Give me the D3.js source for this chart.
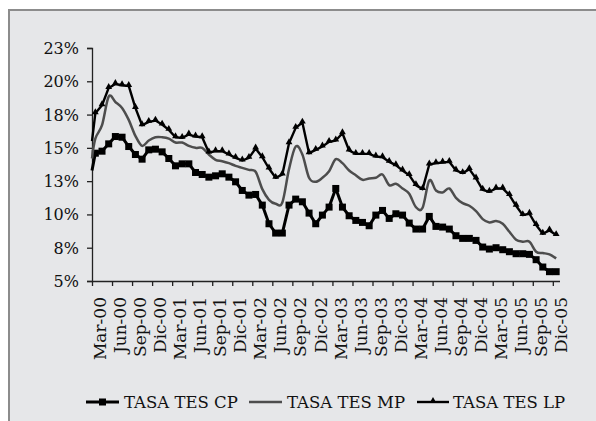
<!DOCTYPE html>
<html>
<head>
<meta charset="utf-8">
<script src="https://cdn.jsdelivr.net/npm/d3@7/dist/d3.min.js"></script>
<style>
  html, body { margin: 0; padding: 0; background: #fff; }
  svg text { font-family: "DejaVu Serif", serif; fill: #111; }
</style>
</head>
<body>
<div id="chart"></div>
<script>
// Tasas TES: corto, mediano y largo plazo (valores en %)

const etiquetasX = ["Mar-00", "Jun-00", "Sep-00", "Dic-00", "Mar-01", "Jun-01", "Sep-01", "Dic-01",
    "Mar-02", "Jun-02", "Sep-02", "Dic-02", "Mar-03", "Jun-03", "Sep-03", "Dic-03",
    "Mar-04", "Jun-04", "Sep-04", "Dic-04", "Mar-05", "Jun-05", "Sep-05", "Dic-05"];

const valoresY = [5, 7.5, 10, 12.5, 15, 17.5, 20, 22.5];
const etiquetasY = ["5%", "8%", "10%", "13%", "15%", "18%", "20%", "23%"];

// first value sits on the axis, the rest are monthly (Mar-00 .. Dic-05)
const tasaCP = [13.3, 14.6, 14.75, 15.3, 15.85, 15.8, 15.1, 14.5, 14.15, 14.85, 14.9,
    14.7, 14.2, 13.65, 13.8, 13.8, 13.15, 13.0, 12.8, 12.9, 13.05,
    12.8, 12.45, 11.8, 11.45, 11.5, 10.7, 9.3, 8.6, 8.6, 10.7,
    11.15, 10.95, 10.1, 9.3, 9.95, 10.55, 11.95, 10.55, 9.9, 9.55,
    9.4, 9.15, 9.95, 10.3, 9.7, 10.05, 9.95, 9.35, 8.9, 8.9,
    9.85, 9.1, 9.05, 8.9, 8.4, 8.2, 8.2, 8.05, 7.55, 7.4,
    7.5, 7.35, 7.2, 7.05, 7.05, 7.0, 6.6, 6.05, 5.7, 5.7];

const tasaMP = [14.2, 15.7, 16.7, 18.85, 18.45, 18.0, 17.1, 15.9, 15.15, 15.55, 15.8,
    15.8, 15.7, 15.4, 15.4, 15.15, 15.0, 15.0, 14.5, 14.1, 14.0,
    13.85, 13.65, 13.5, 13.35, 13.2, 11.9, 11.1, 10.8, 10.9, 13.4,
    15.1, 14.5, 12.75, 12.45, 12.75, 13.25, 14.15, 13.85, 13.3, 12.95,
    12.6, 12.7, 12.75, 13.0, 12.2, 12.3, 11.95, 11.55, 10.55, 10.5,
    12.55, 11.8, 11.65, 11.95, 11.25, 10.85, 10.65, 10.25, 9.65, 9.4,
    9.5, 9.3, 8.7, 8.1, 7.95, 7.95, 7.2, 7.1, 7.0, 6.7];

const tasaLP = [15.5, 17.6, 18.2, 19.5, 19.8, 19.7, 19.65, 18.0, 16.7, 16.95, 17.05,
    16.75, 16.35, 15.8, 15.75, 16.0, 15.85, 15.8, 14.65, 14.75, 14.75,
    14.5, 14.25, 14.05, 14.25, 14.95, 14.3, 13.45, 12.75, 13.0, 15.35,
    16.5, 16.9, 14.6, 14.85, 15.1, 15.45, 15.55, 16.1, 14.8, 14.55,
    14.55, 14.55, 14.35, 14.3, 13.95, 13.7, 13.3, 12.95, 12.2, 11.9,
    13.75, 13.85, 13.9, 13.95, 13.3, 13.1, 13.4, 12.7, 11.85, 11.7,
    11.95, 11.95, 11.45, 10.65, 9.95, 10.05, 9.2, 8.55, 8.8, 8.45];

const series = [
    { nombre: "TASA TES CP", valores: tasaCP, color: "#000", ancho: 3, marca: "cuadro", curva: d3.curveLinear },
    { nombre: "TASA TES MP", valores: tasaMP, color: "#4d4d4d", ancho: 2.5, marca: null, curva: d3.curveCatmullRom.alpha(0) },
    { nombre: "TASA TES LP", valores: tasaLP, color: "#000", ancho: 2.4, marca: "triangulo", curva: d3.curveLinear }
];

const width = 596, height = 421;

const svg = d3.select('#chart')
    .append('svg')
    .attr('width', width)
    .attr('height', height);

// frame (cut off at right and bottom like the original)
svg.append('rect')
    .attr('x', 9).attr('y', 10)
    .attr('width', 620).attr('height', 440)
    .attr('fill', '#e6e7e9')
    .attr('stroke', '#8c8c8c')
    .attr('stroke-width', 2);

// month position: first value on the axis, then mid-month
const mes = i => i === 0 ? 0 : i - 0.5;

const x = d3.scaleLinear().domain([0, 70]).range([92, 559.5]);
const y = d3.scaleLinear().domain([5, 22.5]).range([281, 48]);

// y axis
const yAxis = svg.append('g')
    .attr('transform', 'translate(92,0)')
    .call(d3.axisLeft(y)
        .tickValues(valoresY)
        .tickSize(5)
        .tickPadding(8)
        .tickFormat((d, i) => etiquetasY[i]));
yAxis.select('.domain').attr('stroke', '#222').attr('stroke-width', 1.3);
yAxis.selectAll('.tick line').attr('stroke', '#222').attr('stroke-width', 1.3);
yAxis.selectAll('text').style('font-size', '16px').attr('dy', '0.34em');

// x axis
const posTicks = etiquetasX.map((d, i) => i * 3);
const xAxis = svg.append('g')
    .attr('transform', 'translate(0,281)')
    .call(d3.axisBottom(x)
        .tickValues(posTicks)
        .tickSize(5)
        .tickSizeOuter(0)
        .tickFormat(''));
xAxis.select('.domain').attr('stroke', '#222').attr('stroke-width', 1.3);
xAxis.selectAll('.tick line').attr('stroke', '#222').attr('stroke-width', 1.3);

svg.append('g')
    .selectAll('text')
    .data(etiquetasX)
    .join('text')
    .attr('transform', (d, i) => `translate(${x(posTicks[i]) + 8},297) rotate(-90)`)
    .attr('text-anchor', 'end')
    .attr('dy', '0.36em')
    .style('font-size', '17px')
    .text(d => d);

// lines
const plot = svg.append('g');

series.forEach(s => {
    const line = d3.line()
        .x((d, i) => x(mes(i)))
        .y(d => y(d))
        .curve(s.curva);

    plot.append('path')
        .datum(s.valores)
        .attr('fill', 'none')
        .attr('stroke', s.color)
        .attr('stroke-width', s.ancho)
        .attr('stroke-linejoin', 'round')
        .attr('d', line);

    if (s.marca === 'cuadro') {
        plot.append('g')
            .selectAll('rect')
            .data(s.valores.slice(1))
            .join('rect')
            .attr('x', (d, i) => x(mes(i + 1)) - 3.5)
            .attr('y', d => y(d) - 3.5)
            .attr('width', 7)
            .attr('height', 7)
            .attr('fill', s.color);
    } else if (s.marca === 'triangulo') {
        const tri = d3.symbol().type(d3.symbolTriangle).size(20);
        plot.append('g')
            .selectAll('path')
            .data(s.valores.slice(1))
            .join('path')
            .attr('transform', (d, i) => `translate(${x(mes(i + 1))},${y(d) - 1})`)
            .attr('d', tri)
            .attr('fill', s.color);
    }
});

// legend
const legendPos = [
    { linea: [86, 119], texto: 124 },
    { linea: [249, 282], texto: 287 },
    { linea: [417, 449], texto: 453 }
];
const legendY = 402;

series.forEach((s, i) => {
    const p = legendPos[i];
    const g = svg.append('g');
    g.append('line')
        .attr('x1', p.linea[0]).attr('x2', p.linea[1])
        .attr('y1', legendY).attr('y2', legendY)
        .attr('stroke', s.color)
        .attr('stroke-width', s.ancho);
    const cx = (p.linea[0] + p.linea[1]) / 2;
    if (s.marca === 'cuadro') {
        g.append('rect')
            .attr('x', cx - 3.5).attr('y', legendY - 3.5)
            .attr('width', 7).attr('height', 7)
            .attr('fill', s.color);
    } else if (s.marca === 'triangulo') {
        g.append('path')
            .attr('transform', `translate(${cx},${legendY - 1})`)
            .attr('d', d3.symbol().type(d3.symbolTriangle).size(20))
            .attr('fill', s.color);
    }
    g.append('text')
        .attr('x', p.texto)
        .attr('y', 408)
        .style('font-size', '16.5px')
        .text(s.nombre);
});
</script>
</body>
</html>
